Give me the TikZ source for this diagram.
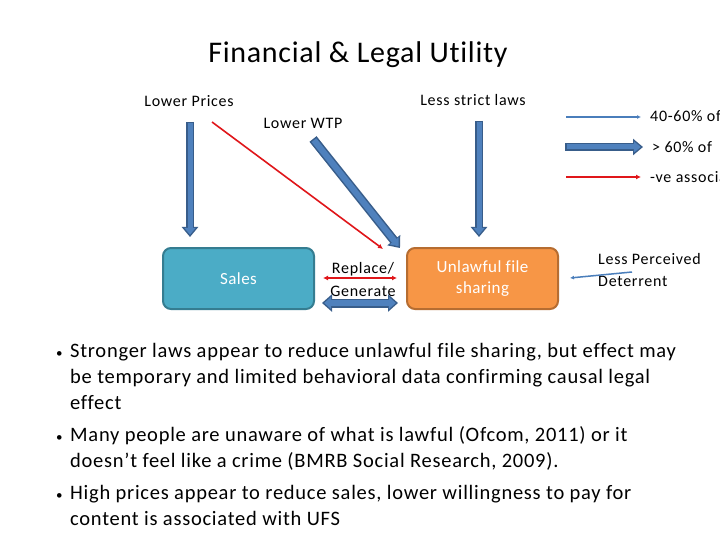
\documentclass[tikz,border=0pt]{standalone}
\usepackage{fontspec}
\setmainfont{Carlito}[Ligatures=NoCommon]
\newfontfamily\ftitle{Carlito}[LetterSpace=2.4, Ligatures=NoCommon]
\newfontfamily\fbul{Carlito}[LetterSpace=3.6, Ligatures=NoCommon]
\newfontfamily\flab{Carlito}[LetterSpace=4.5, Ligatures=NoCommon]
\newfontfamily\fboxt{Carlito}[LetterSpace=2.5, Ligatures=NoCommon]
\usetikzlibrary{arrows.meta}
\definecolor{blueF}{HTML}{4F81BD}
\definecolor{blueD}{HTML}{385D8A}
\definecolor{thinblue}{HTML}{4A7EBB}
\definecolor{redL}{HTML}{E0161A}
\definecolor{salesF}{HTML}{4BACC6}
\definecolor{salesD}{HTML}{357D91}
\definecolor{ufsF}{HTML}{F79646}
\definecolor{ufsD}{HTML}{B66D31}
\tikzset{
  lbl/.style={anchor=base, inner sep=0pt, font=\flab\fontsize{16}{19}\selectfont},
  lblw/.style={anchor=base west, inner sep=0pt, font=\flab\fontsize{16}{19}\selectfont},
  bul/.style={anchor=base west, inner sep=0pt, font=\fbul\fontsize{20.5}{26}\selectfont},
  boxst/.style={rounded corners=8pt, line width=2pt, minimum width=151pt, minimum height=61pt, text=white, align=center, font=\fboxt\fontsize{17}{21}\selectfont},
  blkout/.style={draw=blueD, line width=8pt, -{Triangle[width=16pt,length=10pt]}},
  blkin/.style={draw=blueF, line width=5pt, -{Triangle[width=11pt,length=7pt]}, shorten >=2.2pt, shorten <=1.5pt},
  dblout/.style={draw=blueD, line width=9pt, {Triangle[width=17pt,length=10pt]}-{Triangle[width=17pt,length=10pt]}},
  dblin/.style={draw=blueF, line width=6pt, {Triangle[width=12pt,length=7pt]}-{Triangle[width=12pt,length=7pt]}, shorten >=2.2pt, shorten <=2.2pt},
  redarr/.style={draw=redL, line width=1.6pt, -{Latex[length=5pt,width=5pt]}},
  thinarr/.style={draw=thinblue, line width=1.5pt, -{Latex[length=4pt,width=4pt]}},
}
\begin{document}
\begin{tikzpicture}[x=1pt,y=-1pt]
\useasboundingbox (0,0) rectangle (720,540);
\clip (0,0) rectangle (720,540);
\fill[white] (0,0) rectangle (720,540);

% title
\node[anchor=base, inner sep=0pt, font=\ftitle\fontsize{30}{36}\selectfont] (title) at (358,63) {Financial \& Legal Utility};

% labels
\node[lbl] (lp) at (189,107) {Lower Prices};
\node[lbl] (wtp) at (303,129) {Lower WTP};
\node[lbl] (lsl) at (473,106) {Less strict laws};
\node[lblw] (lpd1) at (598,264) {Less Perceived};
\node[lblw] (lpd2) at (598,286) {Deterrent};
\node[lbl] (rep1) at (363,273) {Replace/};
\node[lbl] (rep2) at (363,296) {Generate};

% boxes
\node[boxst, draw=salesD, fill=salesF] (sales) at (238.5,278.5) {Sales};
\node[boxst, draw=ufsD, fill=ufsF] (ufs) at (482.5,278.5) {Unlawful file\\sharing};

% arrow coordinates
\coordinate (a1s) at (190,122);
\coordinate (a1e) at (190,237);
\coordinate (rs) at (212,122);
\coordinate (re) at (383,249);
\coordinate (a2s) at (313,139);
\coordinate (a2e) at (400,248);
\coordinate (a3s) at (479,121);
\coordinate (a3e) at (479,237);
\coordinate (d1s) at (323,278);
\coordinate (d1e) at (397,278);
\coordinate (d2s) at (322,303);
\coordinate (d2e) at (398,303);
\coordinate (ds) at (632,272);
\coordinate (de) at (570,278);

\draw[blkout] (a1s) -- (a1e);
\draw[blkin] (a1s) -- (a1e);
\draw[redarr] (rs) -- (re);
\draw[blkout, line width=9pt] (a2s) -- (a2e);
\draw[blkin, line width=6pt] (a2s) -- (a2e);
\draw[blkout] (a3s) -- (a3e);
\draw[blkin] (a3s) -- (a3e);
\draw[redarr, {Latex[length=5pt,width=5pt]}-{Latex[length=5pt,width=5pt]}] (d1s) -- (d1e);
\draw[dblout] (d2s) -- (d2e);
\draw[dblin] (d2s) -- (d2e);
\draw[thinarr] (ds) -- (de);

% legend
\coordinate (l1s) at (566,117);
\coordinate (l1e) at (641,117);
\coordinate (l2s) at (565,147);
\coordinate (l2e) at (643,147);
\coordinate (l3s) at (566,177);
\coordinate (l3e) at (641,177);
\draw[thinarr] (l1s) -- (l1e);
\draw[blkout] (l2s) -- (l2e);
\draw[blkin] (l2s) -- (l2e);
\draw[redarr] (l3s) -- (l3e);
\node[lblw] (lg1) at (650,122) {40-60\% of};
\node[lblw] (lg2) at (652,153) {> 60\% of};
\node[lblw] (lg3) at (650,183) {-ve association};

% bullets
\foreach \yy in {357,441,499} {\node[anchor=base west, inner sep=0pt, font=\fontsize{13}{15}\selectfont] at (56,\yy) {•};}
\node[bul] (b1a) at (70,357) {Stronger laws appear to reduce unlawful file sharing, but effect may};
\node[bul] (b1b) at (70,383) {be temporary and limited behavioral data confirming causal legal};
\node[bul] (b1c) at (70,409) {effect};
\node[bul] (b2a) at (70,441) {Many people are unaware of what is lawful (Ofcom, 2011) or it};
\node[bul] (b2b) at (70,467) {doesn’t feel like a crime (BMRB Social Research, 2009).};
\node[bul] (b3a) at (70,499) {High prices appear to reduce sales, lower willingness to pay for};
\node[bul] (b3b) at (70,525) {content is associated with UFS};
\end{tikzpicture}
\end{document}
